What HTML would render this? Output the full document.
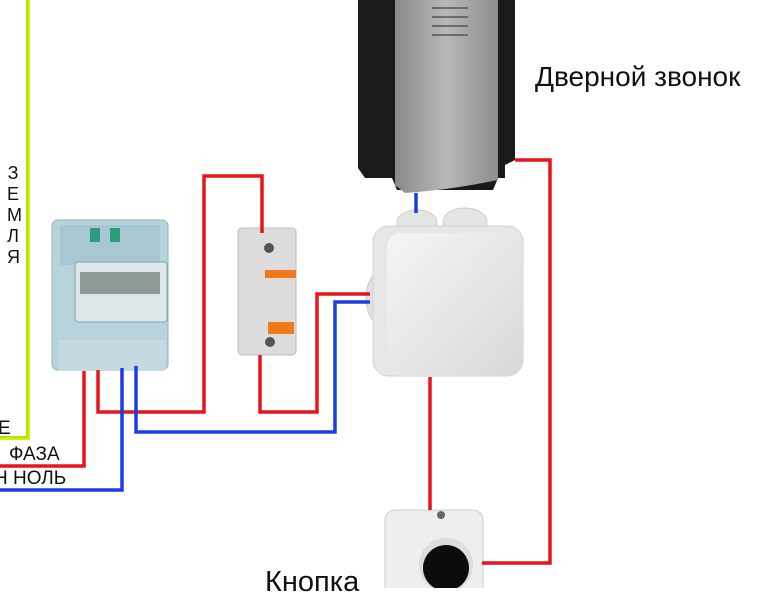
<!DOCTYPE html>
<html><head><meta charset="utf-8"><style>
body{margin:0;background:#fff;width:770px;height:588px;overflow:hidden;position:relative;font-family:"Liberation Sans","DejaVu Sans",sans-serif}
svg{position:absolute;left:0;top:0}
.t{position:absolute;color:#111;white-space:nowrap}
</style></head><body>
<svg width="770" height="588" viewBox="0 0 770 588">
<defs>
<linearGradient id="sil" x1="0" x2="1"><stop offset="0" stop-color="#8a8a8a"/><stop offset=".5" stop-color="#b8b8b8"/><stop offset="1" stop-color="#8c8c8c"/></linearGradient>
<linearGradient id="box" x1="0" x2="1" y1="0" y2="1"><stop offset="0" stop-color="#f4f5f6"/><stop offset="1" stop-color="#d6d8da"/></linearGradient>
</defs>
<polyline points="28,0 28,438 0,438" fill="none" stroke="#d8f000" stroke-width="4"/>
<polyline points="27,0 27,437 0,437" fill="none" stroke="#9be000" stroke-width="1.5"/>
<path d="M358 0 H515 V160 L505 165 V178 H498 L493 190 H397 L392 178 H365 L358 168 Z" fill="#1a1a1a"/>
<path d="M395 0 H498 V180 Q450 190 405 193 L395 185 Z" fill="url(#sil)"/>
<g stroke="#555" stroke-width="1.5"><line x1="432" y1="8" x2="468" y2="8"/><line x1="432" y1="17" x2="468" y2="17"/><line x1="432" y1="26" x2="468" y2="26"/><line x1="432" y1="35" x2="468" y2="35"/></g>
<ellipse cx="417" cy="222" rx="20" ry="12" fill="#e4e5e6" stroke="#ccc"/>
<ellipse cx="465" cy="222" rx="22" ry="14" fill="#e4e5e6" stroke="#ccc"/>
<ellipse cx="378" cy="298" rx="12" ry="24" fill="#e0e1e2" stroke="#ccc"/>
<rect x="373" y="226" width="150" height="150" rx="16" fill="#e6e7e8" stroke="#cfd1d3"/>
<rect x="387" y="233" width="135" height="143" rx="14" fill="url(#box)"/>
<rect x="52" y="220" width="116" height="150" rx="6" fill="#b7d3dc" stroke="#8fb3bf"/>
<rect x="60" y="225" width="100" height="40" fill="#a8c9d3"/>
<rect x="75" y="262" width="92" height="60" rx="3" fill="#dde7ea" stroke="#7aa"/>
<rect x="80" y="272" width="80" height="22" fill="#8d9a96"/>
<rect x="90" y="228" width="10" height="14" fill="#2f9c7a"/><rect x="110" y="228" width="10" height="14" fill="#2f9c7a"/>
<rect x="58" y="340" width="108" height="30" fill="#c4dae1"/>
<rect x="238" y="228" width="58" height="127" rx="4" fill="#dcdcdc" stroke="#bbb"/>
<circle cx="269" cy="248" r="5" fill="#555"/>
<circle cx="270" cy="342" r="5" fill="#555"/>
<rect x="265" y="270" width="31" height="8" fill="#f07a1a"/>
<rect x="268" y="322" width="26" height="12" fill="#f07a1a"/>
<rect x="385" y="510" width="98" height="90" rx="10" fill="#eeeeee" stroke="#ccc"/>
<circle cx="441" cy="515" r="4" fill="#666"/>
<circle cx="446" cy="565" r="27" fill="#ddd"/>
<circle cx="446" cy="568" r="23" fill="#0c0c0c"/>
<g fill="none" stroke-width="3.5" stroke-linejoin="miter">
<polyline points="0,466 84,466 84,371" stroke="#e8141c"/>
<polyline points="98,370 98,412 204,412 204,176 262,176 262,233" stroke="#e8141c"/>
<polyline points="260,355 260,412 317,412 317,294 370,294" stroke="#e8141c"/>
<polyline points="0,490 122,490 122,368" stroke="#1c3ce6"/>
<polyline points="136,366 136,432 335,432 335,302 370,302" stroke="#1c3ce6"/>
<polyline points="416,193 416,213" stroke="#1c3ce6"/>
<polyline points="515,160 550,160 550,563 482,563" stroke="#e8141c"/>
<polyline points="430,377 430,510" stroke="#e8141c"/>
</g>
</svg>
<div class="t" style="left:7px;top:163px;font-size:18px;line-height:21px;text-align:center;width:12px">З<br>Е<br>М<br>Л<br>Я</div>
<div class="t" style="left:-2px;top:418px;font-size:19px">Е</div>
<div class="t" style="left:9px;top:444px;font-size:19px">ФАЗА</div>
<div class="t" style="left:-6px;top:468px;font-size:19px">Н НОЛЬ</div>
<div class="t" style="left:535px;top:61px;font-size:28px">Дверной звонок</div>
<div class="t" style="left:265px;top:566px;font-size:29px">Кнопка</div>
</body></html>
